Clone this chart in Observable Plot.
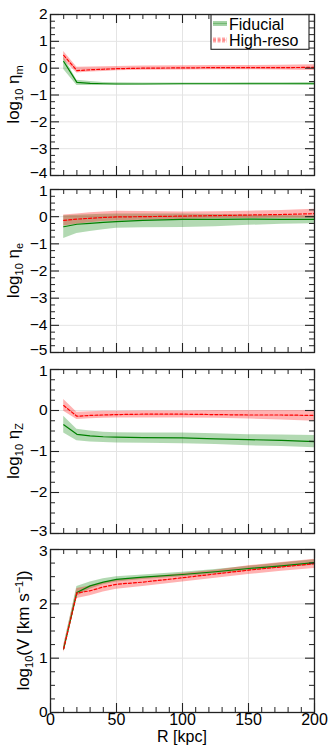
<!DOCTYPE html>
<html><head><meta charset="utf-8">
<script src="https://cdn.jsdelivr.net/npm/d3@7"></script>
<script src="https://cdn.jsdelivr.net/npm/@observablehq/plot@0.6"></script>
<style>
body{margin:0;background:#fff;}
#chart{position:relative;width:332px;height:753px;font-family:"Liberation Sans",Arial,sans-serif;}
#chart svg{position:absolute;left:0;overflow:visible;}
</style></head><body><div id="chart"></div>
<script>
// Radius grid (kpc)
const R = [10, 20, 30, 40, 50, 70, 100, 125, 150, 175, 200];

// Panel 1: log10 eta_m
const etaM_fid    = [0.25, -0.53, -0.57, -0.58, -0.59, -0.59, -0.58, -0.58, -0.58, -0.58, -0.58];
const etaM_fidLo  = [-0.05, -0.65, -0.65, -0.64, -0.63, -0.62, -0.62, -0.62, -0.62, -0.62, -0.63];
const etaM_fidHi  = [0.42, -0.45, -0.50, -0.53, -0.54, -0.55, -0.55, -0.55, -0.54, -0.54, -0.53];
const etaM_hr     = [0.48, -0.09, -0.06, -0.04, -0.02, 0.00, 0.01, 0.02, 0.02, 0.02, 0.03];
const etaM_hrLo   = [0.30, -0.18, -0.14, -0.12, -0.10, -0.08, -0.07, -0.06, -0.06, -0.07, -0.09];
const etaM_hrHi   = [0.62, 0.03, 0.04, 0.05, 0.06, 0.08, 0.09, 0.10, 0.10, 0.11, 0.13];

// Panel 2: log10 eta_e
const etaE_fid    = [-0.37, -0.28, -0.25, -0.21, -0.18, -0.14, -0.10, -0.10, -0.09, -0.10, -0.10];
const etaE_fidLo  = [-0.80, -0.62, -0.55, -0.48, -0.43, -0.41, -0.40, -0.37, -0.32, -0.28, -0.26];
const etaE_fidHi  = [0.03, 0.05, 0.07, 0.09, 0.10, 0.10, 0.10, 0.08, 0.06, 0.04, 0.02];
const etaE_hr     = [-0.14, -0.09, -0.06, -0.03, -0.01, 0.00, 0.02, 0.04, 0.06, 0.08, 0.11];
const etaE_hrLo   = [-0.34, -0.28, -0.22, -0.18, -0.16, -0.13, -0.10, -0.08, -0.07, -0.06, -0.06];
const etaE_hrHi   = [0.06, 0.10, 0.14, 0.17, 0.20, 0.19, 0.17, 0.18, 0.20, 0.23, 0.27];

// Panel 3: log10 eta_Z
const etaZ_fid    = [-0.35, -0.58, -0.62, -0.64, -0.65, -0.66, -0.67, -0.69, -0.71, -0.73, -0.76];
const etaZ_fidLo  = [-0.55, -0.74, -0.77, -0.78, -0.79, -0.80, -0.81, -0.83, -0.86, -0.88, -0.91];
const etaZ_fidHi  = [-0.14, -0.46, -0.50, -0.53, -0.54, -0.55, -0.55, -0.57, -0.59, -0.60, -0.61];
const etaZ_hr     = [0.12, -0.14, -0.12, -0.11, -0.10, -0.09, -0.09, -0.10, -0.11, -0.11, -0.12];
const etaZ_hrLo   = [-0.02, -0.22, -0.20, -0.19, -0.18, -0.18, -0.18, -0.19, -0.21, -0.23, -0.26];
const etaZ_hrHi   = [0.27, -0.04, -0.03, -0.02, -0.02, -0.01, -0.01, 0.00, 0.00, 0.00, 0.00];

// Panel 4: log10 V [km/s]
const V_fid       = [1.17, 2.21, 2.33, 2.40, 2.45, 2.49, 2.54, 2.59, 2.65, 2.70, 2.76];
const V_fidLo     = [1.12, 2.14, 2.27, 2.35, 2.40, 2.45, 2.50, 2.55, 2.61, 2.66, 2.71];
const V_fidHi     = [1.22, 2.32, 2.40, 2.46, 2.50, 2.53, 2.58, 2.63, 2.69, 2.75, 2.81];
const V_hr        = [1.17, 2.20, 2.24, 2.31, 2.36, 2.40, 2.48, 2.55, 2.62, 2.68, 2.74];
const V_hrLo      = [1.10, 2.10, 2.15, 2.22, 2.27, 2.32, 2.40, 2.47, 2.54, 2.60, 2.65];
const V_hrHi      = [1.24, 2.28, 2.33, 2.39, 2.44, 2.48, 2.56, 2.62, 2.70, 2.76, 2.82];

// Axes
const xDomain = [0, 200];
const xMajor = [0, 50, 100, 150, 200];
const xMinor = [10, 20, 30, 40, 60, 70, 80, 90, 110, 120, 130, 140, 160, 170, 180, 190];
const seriesNames = ["Fiducial", "High-reso"];
const xLabel = "R [kpc]";

const panels = [
  {top: 14,  bottom: 175, domain: [-4, 2], fid: etaM_fid, fidLo: etaM_fidLo, fidHi: etaM_fidHi, hr: etaM_hr, hrLo: etaM_hrLo, hrHi: etaM_hrHi,
   label: [["log"], ["10", "sub"], [" η"], ["m", "sub"]], lx: 19},
  {top: 189, bottom: 352, domain: [-5, 1], fid: etaE_fid, fidLo: etaE_fidLo, fidHi: etaE_fidHi, hr: etaE_hr, hrLo: etaE_hrLo, hrHi: etaE_hrHi,
   label: [["log"], ["10", "sub"], [" η"], ["e", "sub"]], lx: 19},
  {top: 369, bottom: 533, domain: [-3, 1], fid: etaZ_fid, fidLo: etaZ_fidLo, fidHi: etaZ_fidHi, hr: etaZ_hr, hrLo: etaZ_hrLo, hrHi: etaZ_hrHi,
   label: [["log"], ["10", "sub"], [" η"], ["Z", "sub"]], lx: 19},
  {top: 549, bottom: 712, domain: [0, 3], fid: V_fid, fidLo: V_fidLo, fidHi: V_fidHi, hr: V_hr, hrLo: V_hrLo, hrHi: V_hrHi,
   label: [["log"], ["10", "sub"], ["(V [km s"], ["−1", "sup"], ["])"]], lx: 29}
];

const GREEN = "#008000", RED = "#ff0000";
const chart = document.getElementById("chart");
const FONT = '"Liberation Sans", Arial, sans-serif';
const fmt = d => d < 0 ? "−" + Math.abs(d) : String(d);

panels.forEach((p, i) => {
  const first = i === 0;
  const last = i === panels.length - 1;
  const mt = 12, mb = last ? 44 : 12;
  const W = 332 - 50 - 18;
  const H = p.bottom - p.top;
  const h = H + mt + mb;
  const yMajor = d3.range(p.domain[0], p.domain[1] + 0.001, 1);
  const yMinor = d3.range(p.domain[0], p.domain[1] + 0.001, 0.25).filter(v => !yMajor.includes(v));
  const yInner = yMajor.slice(1, -1);
  const rows = R.map((r, j) => ({r, g: p.fid[j], glo: p.fidLo[j], ghi: p.fidHi[j], h: p.hr[j], hlo: p.hrLo[j], hhi: p.hrHi[j]}));
  const TK = "#222";
  const ticks = [
    Plot.tickY(yMajor, {y: d => d, insetRight: W - 9, stroke: TK, strokeWidth: 1.1}),
    Plot.tickY(yMajor, {y: d => d, insetLeft: W - 9, stroke: TK, strokeWidth: 1.1}),
    Plot.tickY(yMinor, {y: d => d, insetRight: W - 5, stroke: TK}),
    Plot.tickY(yMinor, {y: d => d, insetLeft: W - 5, stroke: TK}),
    Plot.tickX(xMajor, {x: d => d, insetBottom: H - 9, stroke: TK, strokeWidth: 1.1}),
    Plot.tickX(xMajor, {x: d => d, insetTop: H - 9, stroke: TK, strokeWidth: 1.1}),
    Plot.tickX(xMinor, {x: d => d, insetBottom: H - 5, stroke: TK}),
    Plot.tickX(xMinor, {x: d => d, insetTop: H - 5, stroke: TK})
  ];
  const yLab = {anchor: "left", tickSize: 0, tickPadding: 3, label: null, fontSize: 15.5, tickFormat: fmt};
  const svg = Plot.plot({
    width: 332, height: h,
    marginLeft: 50, marginRight: 18, marginTop: mt, marginBottom: mb,
    x: {domain: xDomain, label: null, axis: null},
    y: {domain: p.domain, label: null, axis: null},
    style: {fontFamily: FONT, fontSize: "15px", color: "black", background: "transparent", overflow: "visible"},
    marks: [
      Plot.gridX(xMajor.slice(1, -1), {stroke: "#e4e4e4", strokeOpacity: 1}),
      Plot.gridY(yInner, {stroke: "#e4e4e4", strokeOpacity: 1}),
      Plot.areaY(rows, {x: "r", y1: "glo", y2: "ghi", fill: GREEN, fillOpacity: 0.3}),
      Plot.areaY(rows, {x: "r", y1: "hlo", y2: "hhi", fill: RED, fillOpacity: 0.3}),
      Plot.line(rows, {x: "r", y: "g", stroke: GREEN, strokeWidth: 1.2}),
      Plot.line(rows, {x: "r", y: "h", stroke: RED, strokeWidth: 1.2, strokeDasharray: "3,2"}),
      ...ticks,
      Plot.frame({stroke: "#222", strokeWidth: 1.3}),
      Plot.axisY(yInner, yLab),
      Plot.axisY([p.domain[1]], {...yLab, dy: first ? 0 : 2}),
      Plot.axisY([p.domain[0]], {...yLab, dy: last ? 0 : -2.5}),
      last ? Plot.axisX(xMajor, {anchor: "bottom", tickSize: 0, tickPadding: 1, label: null, fontSize: 16, tickFormat: fmt}) : null
    ]
  });
  svg.style.top = (p.top - mt) + "px";
  chart.appendChild(svg);
  const s = d3.select(svg);
  const cy = mt + H / 2;
  const t = s.append("text")
    .attr("transform", `translate(${p.lx},${cy}) rotate(-90)`)
    .attr("text-anchor", "middle")
    .attr("font-family", FONT).attr("font-size", 17).attr("fill", "black");
  let shift = 0;
  p.label.forEach(([txt, kind]) => {
    const target = kind === "sub" ? 4 : kind === "sup" ? -6 : 0;
    const ts = t.append("tspan").attr("dy", target - shift).text(txt);
    if (kind) ts.attr("font-size", 11);
    shift = target;
  });
  if (last) {
    s.append("text")
      .attr("x", 50 + W / 2).attr("y", mt + H + 30)
      .attr("text-anchor", "middle").attr("font-family", FONT).attr("font-size", 16).attr("fill", "black")
      .text(xLabel);
  }
  if (first) {
    const oy = p.top - mt;
    const g = s.append("g").attr("font-family", FONT).attr("font-size", 16).attr("text-anchor", "start");
    g.append("rect").attr("x", 211).attr("y", 14.7 - oy).attr("width", 98).attr("height", 34.6)
      .attr("fill", "white").attr("stroke", "#222").attr("stroke-width", 1.1);
    const rowsY = [23.5, 40];
    const cols = [GREEN, RED];
    seriesNames.forEach((name, k) => {
      const yy = rowsY[k] - oy;
      const band = g.append("line").attr("x1", 213).attr("x2", 227).attr("y1", yy).attr("y2", yy)
        .attr("stroke", cols[k]).attr("stroke-opacity", 0.35).attr("stroke-width", 5);
      if (k === 1) band.attr("stroke-dasharray", "3,1.5");
      const ln = g.append("line").attr("x1", 213).attr("x2", 227).attr("y1", yy).attr("y2", yy)
        .attr("stroke", cols[k]).attr("stroke-opacity", 0.3).attr("stroke-width", 1.2);
      if (k === 1) ln.attr("stroke-dasharray", "3,2");
      g.append("text").attr("x", 229).attr("y", yy + 6).attr("fill", "black").attr("text-anchor", "start").text(name);
    });
  }
});
</script>
</body></html>
